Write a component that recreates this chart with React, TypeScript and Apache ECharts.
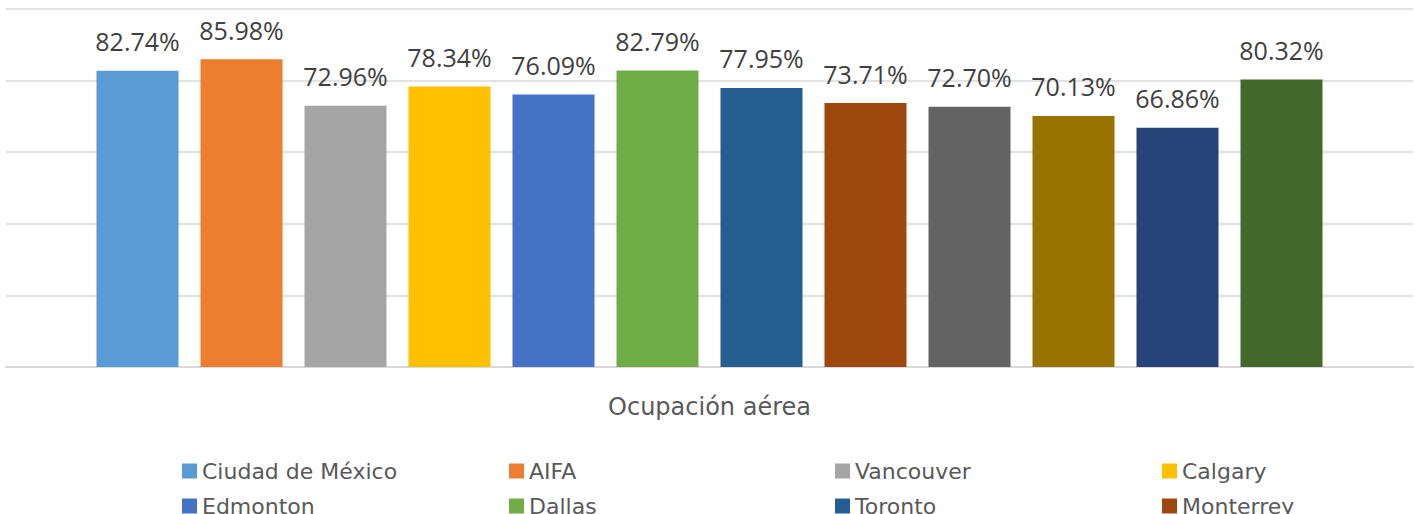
import React, { useEffect, useRef } from "react";
import * as echarts from "echarts";

const categories = ["Ocupación aérea"];
const seriesNames = [
  "Ciudad de México", "AIFA", "Vancouver", "Calgary",
  "Edmonton", "Dallas", "Toronto", "Monterrey",
  "Guadalajara", "Cancún", "Mérida", "Houston",
];
const seriesValues = [82.74, 85.98, 72.96, 78.34, 76.09, 82.79, 77.95, 73.71, 72.70, 70.13, 66.86, 80.32];
const colors = [
  "#5B9BD5", "#ED7D31", "#A5A5A5", "#FFC000",
  "#4472C4", "#70AD47", "#255E91", "#9E480E",
  "#636363", "#997300", "#264478", "#43682B",
];
const legendLefts = [182, 509, 835, 1162];

export default function App() {
  const ref = useRef<HTMLDivElement>(null);
  useEffect(() => {
    if (!ref.current) return;
    const chart = echarts.init(ref.current, null, { renderer: "svg" });
    const font = "'Open Sans', 'Noto Sans', sans-serif";
    const wideFont = "'DejaVu Sans', 'Open Sans', sans-serif";
    chart.setOption({
      animation: false,
      color: colors,
      grid: { left: 6, right: 1, top: 9, bottom: 514 - 367, containLabel: false },
      xAxis: {
        type: "category",
        data: categories,
        axisLine: { lineStyle: { color: "#D9D9D9", width: 2 } },
        axisTick: { show: false },
        axisLabel: { color: "#595959", fontSize: 24, fontFamily: wideFont, margin: 28 },
      },
      yAxis: {
        type: "value",
        min: 0,
        max: 100,
        interval: 20,
        axisLabel: { show: false },
        axisLine: { show: false },
        axisTick: { show: false },
        splitLine: { lineStyle: { color: "#D9D9D9", width: 1.5 } },
      },
      legend: legendLefts.map((left, c) => ({
        orient: "vertical",
        left,
        top: 460,
        height: 100,
        padding: 0,
        itemWidth: 15,
        itemHeight: 15,
        itemGap: 13,
        icon: "rect",
        data: [seriesNames[c], seriesNames[c + 4]],
        textStyle: { color: "#595959", fontSize: 22, fontFamily: wideFont },
      })),
      series: seriesNames.map((name, i) => ({
        name,
        type: "bar",
        data: [seriesValues[i]],
        barWidth: 82,
        barGap: "26.83%",
        label: {
          show: true,
          position: "top",
          distance: 17,
          color: "#404040",
          fontSize: 25,
          fontFamily: font,
          formatter: (p: any) => p.value.toFixed(2) + "%",
        },
      })),
    });
    return () => chart.dispose();
  }, []);
  return (
    <div
      ref={ref}
      style={{ position: "fixed", left: 0, top: 0, width: 1414, height: 514, background: "#fff" }}
    />
  );
}
